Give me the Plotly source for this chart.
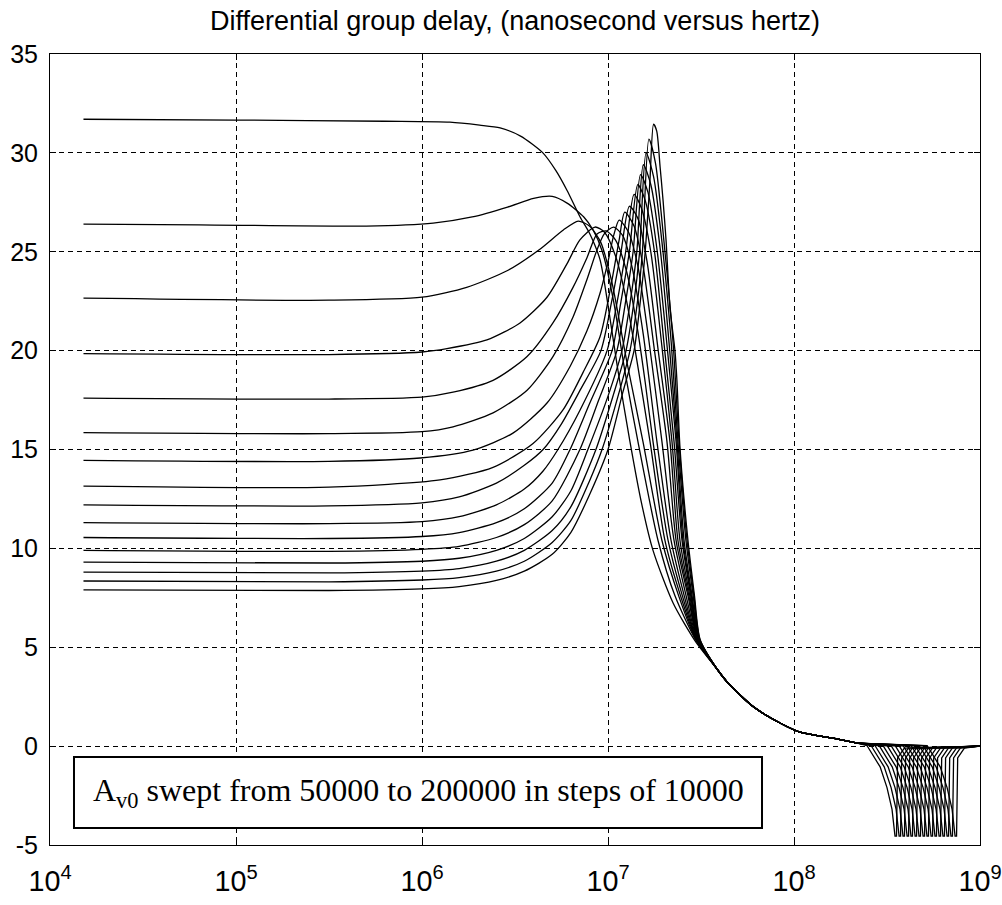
import plotly.graph_objects as go

# Differential group delay (ns) vs frequency, one curve per open-loop gain A_v0.
AV0 = [50000, 60000, 70000, 80000, 90000, 100000, 110000, 120000,
       130000, 140000, 150000, 160000, 170000, 180000, 190000, 200000]

Y_TICKS = [-5, 0, 5, 10, 15, 20, 25, 30, 35]

# Frequencies are given as log10(Hz).
# Low-frequency plateau, resonance hump and roll-off, per curve.
c01_lf = [4.18, 5.0, 5.8, 6.15, 6.31, 6.42, 6.53, 6.65, 6.72, 6.78, 6.85, 6.90, 6.957, 7.0, 7.05, 7.118, 7.18, 7.242, 7.35, 7.47]
c01_ns = [31.70, 31.66, 31.60, 31.55, 31.40, 31.26, 30.85, 30.00, 29.10, 28.10, 26.76, 25.95, 24.60, 22.30, 19.20, 15.40, 12.30, 9.90, 7.24, 5.30]

c02_lf = [4.18, 4.8, 5.7, 6.06, 6.27, 6.46, 6.60, 6.70, 6.78, 6.87, 6.92, 6.97, 7.03, 7.09, 7.161, 7.269, 7.36, 7.47]
c02_ns = [26.40, 26.36, 26.30, 26.45, 26.76, 27.26, 27.70, 27.80, 27.46, 26.76, 26.10, 25.00, 22.50, 19.00, 15.40, 10.40, 7.60, 5.40]

c03_lf = [4.18, 5.5, 6.0, 6.24, 6.46, 6.63, 6.76, 6.84, 6.90, 6.96, 7.02, 7.10, 7.188, 7.29, 7.38, 7.472]
c03_ns = [22.65, 22.55, 22.70, 23.20, 24.05, 25.10, 26.10, 26.55, 26.30, 25.50, 23.50, 19.50, 15.40, 10.40, 7.60, 5.40]

c04_lf = [4.18, 5.5, 6.0, 6.134, 6.349, 6.527, 6.672, 6.78, 6.849, 6.93, 6.98, 7.04, 7.10, 7.15, 7.226, 7.306, 7.39, 7.474]
c04_ns = [19.85, 19.80, 19.93, 20.10, 20.54, 21.40, 22.70, 24.40, 25.60, 26.25, 26.00, 24.80, 22.50, 19.80, 15.40, 10.40, 7.60, 5.40]

c05_lf = [4.18, 5.5, 6.0, 6.167, 6.382, 6.565, 6.704, 6.812, 6.887, 6.941, 6.99, 7.04, 7.10, 7.16, 7.20, 7.242, 7.323, 7.40, 7.476]
c05_ns = [17.60, 17.55, 17.65, 17.90, 18.50, 19.70, 21.40, 23.20, 24.70, 25.90, 26.05, 25.60, 24.00, 21.00, 18.40, 15.40, 10.40, 7.60, 5.40]

c06_lf = [4.18, 5.5, 6.0, 6.167, 6.382, 6.565, 6.704, 6.812, 6.887, 6.941, 6.98, 7.03, 7.08, 7.13, 7.19, 7.263, 7.339, 7.41, 7.477]
c06_ns = [15.85, 15.80, 15.90, 16.15, 16.85, 18.00, 19.70, 21.70, 23.60, 25.10, 25.90, 26.25, 25.80, 24.20, 20.80, 15.40, 10.40, 7.60, 5.40]

c07_lf = [4.18, 5.5, 5.99, 6.274, 6.489, 6.672, 6.796, 6.887, 6.957, 7.0, 7.03, 7.06, 7.11, 7.16, 7.22, 7.29, 7.355, 7.42, 7.479]
c07_ns = [14.45, 14.40, 14.57, 14.97, 15.83, 17.35, 19.20, 21.00, 22.90, 24.50, 25.80, 26.60, 26.00, 24.30, 20.50, 15.40, 10.40, 7.60, 5.40]

c08_lf = [4.18, 5.5, 6.097, 6.382, 6.597, 6.758, 6.866, 6.957, 7.02, 7.06, 7.09, 7.14, 7.19, 7.25, 7.317, 7.366, 7.43, 7.481]
c08_ns = [13.15, 13.10, 13.46, 14.10, 15.30, 17.00, 18.90, 20.70, 23.50, 25.60, 27.00, 26.30, 24.20, 20.00, 15.40, 10.40, 7.60, 5.40]

c09_lf = [4.18, 5.5, 6.0, 6.2, 6.4, 6.55, 6.651, 6.75, 6.85, 6.962, 7.02, 7.07, 7.115, 7.16, 7.21, 7.27, 7.333, 7.376, 7.435, 7.483]
c09_ns = [12.20, 12.15, 12.30, 12.60, 13.30, 14.20, 15.00, 16.30, 18.00, 20.00, 22.50, 25.00, 27.30, 26.70, 24.50, 20.00, 15.40, 10.40, 7.60, 5.40]

c10_lf = [4.18, 5.5, 6.0, 6.2, 6.4, 6.55, 6.65, 6.731, 6.85, 6.995, 7.05, 7.095, 7.14, 7.18, 7.23, 7.29, 7.344, 7.387, 7.44, 7.485]
c10_ns = [11.30, 11.25, 11.35, 11.60, 12.20, 13.00, 13.90, 15.00, 17.00, 20.00, 22.50, 25.00, 27.90, 27.20, 25.00, 20.20, 15.40, 10.40, 7.60, 5.40]

c11_lf = [4.18, 5.5, 6.0, 6.2, 6.4, 6.55, 6.7, 6.796, 6.9, 7.022, 7.07, 7.115, 7.16, 7.20, 7.25, 7.305, 7.355, 7.398, 7.445, 7.486]
c11_ns = [10.55, 10.50, 10.60, 10.80, 11.30, 12.00, 13.30, 15.00, 17.30, 20.00, 22.50, 25.00, 28.40, 27.60, 25.00, 20.00, 15.40, 10.40, 7.60, 5.40]

c12_lf = [4.18, 5.5, 6.0, 6.2, 6.4, 6.55, 6.7, 6.849, 6.95, 7.048, 7.095, 7.135, 7.175, 7.215, 7.265, 7.32, 7.366, 7.403, 7.448, 7.488]
c12_ns = [9.90, 9.85, 9.95, 10.10, 10.55, 11.20, 12.40, 15.00, 17.50, 20.00, 22.50, 25.00, 28.90, 28.00, 25.00, 20.00, 15.40, 10.40, 7.60, 5.40]

c13_lf = [4.18, 5.5, 6.0, 6.2, 6.4, 6.55, 6.7, 6.8, 6.892, 7.0, 7.075, 7.12, 7.155, 7.19, 7.23, 7.28, 7.33, 7.371, 7.409, 7.452, 7.490]
c13_ns = [9.30, 9.26, 9.35, 9.50, 9.90, 10.50, 11.60, 12.90, 15.00, 17.70, 20.00, 22.50, 25.00, 29.40, 28.40, 25.20, 20.20, 15.40, 10.40, 7.60, 5.40]

c14_lf = [4.18, 5.5, 6.0, 6.2, 6.4, 6.55, 6.7, 6.8, 6.935, 7.03, 7.097, 7.14, 7.17, 7.205, 7.245, 7.29, 7.34, 7.376, 7.419, 7.458, 7.492]
c14_ns = [8.80, 8.76, 8.85, 8.98, 9.35, 9.90, 10.90, 12.10, 15.00, 17.80, 20.00, 22.50, 25.00, 30.00, 28.80, 25.50, 20.40, 15.40, 10.40, 7.60, 5.40]

c15_lf = [4.18, 5.5, 6.0, 6.2, 6.4, 6.55, 6.7, 6.8, 6.9, 6.968, 7.06, 7.118, 7.16, 7.185, 7.22, 7.255, 7.30, 7.35, 7.382, 7.425, 7.462, 7.494]
c15_ns = [8.35, 8.31, 8.40, 8.52, 8.85, 9.35, 10.30, 11.40, 13.40, 15.00, 17.90, 20.00, 22.60, 25.00, 30.70, 29.50, 25.60, 20.40, 15.40, 10.40, 7.60, 5.40]

c16_lf = [4.18, 5.5, 6.0, 6.2, 6.4, 6.55, 6.7, 6.8, 6.9, 7.0, 7.08, 7.14, 7.175, 7.20, 7.225, 7.245, 7.262, 7.28, 7.296, 7.312, 7.333, 7.36, 7.371, 7.387, 7.43, 7.465, 7.495]
c16_ns = [7.90, 7.87, 7.95, 8.07, 8.38, 8.85, 9.70, 10.80, 12.70, 15.00, 17.90, 20.00, 22.60, 25.00, 28.50, 31.45, 31.10, 29.30, 27.60, 25.60, 22.20, 20.00, 18.40, 15.10, 10.40, 7.60, 5.40]

# Common high-frequency tail where all curves coincide.
tail_lf = [7.586, 7.64, 7.78, 7.925, 8.032, 8.21, 8.34]
tail_ns = [3.90, 3.25, 2.00, 1.17, 0.71, 0.40, 0.15]

# Negative notch near 300-800 MHz: shared depth profile, per-curve positions.
notch_ns = [0.02, -1.05, -2.10, -3.20, -4.55, -4.55, -0.60, -0.10, 0.00]
n01_lf = [8.393, 8.463, 8.500, 8.527, 8.543, 8.551, 8.557, 8.593, 9.0]
n02_lf = [8.415, 8.485, 8.522, 8.549, 8.565, 8.573, 8.579, 8.615, 9.0]
n03_lf = [8.436, 8.506, 8.543, 8.570, 8.586, 8.594, 8.600, 8.636, 9.0]
n04_lf = [8.458, 8.528, 8.565, 8.592, 8.608, 8.616, 8.622, 8.658, 9.0]
n05_lf = [8.479, 8.549, 8.586, 8.613, 8.629, 8.637, 8.643, 8.679, 9.0]
n06_lf = [8.501, 8.571, 8.608, 8.635, 8.651, 8.659, 8.665, 8.701, 9.0]
n07_lf = [8.522, 8.592, 8.629, 8.656, 8.672, 8.680, 8.686, 8.722, 9.0]
n08_lf = [8.544, 8.614, 8.651, 8.678, 8.694, 8.702, 8.708, 8.744, 9.0]
n09_lf = [8.565, 8.635, 8.672, 8.699, 8.715, 8.723, 8.729, 8.765, 9.0]
n10_lf = [8.587, 8.657, 8.694, 8.721, 8.737, 8.745, 8.751, 8.787, 9.0]
n11_lf = [8.608, 8.678, 8.715, 8.742, 8.758, 8.766, 8.772, 8.808, 9.0]
n12_lf = [8.630, 8.700, 8.737, 8.764, 8.780, 8.788, 8.794, 8.830, 9.0]
n13_lf = [8.651, 8.721, 8.758, 8.785, 8.801, 8.809, 8.815, 8.851, 9.0]
n14_lf = [8.673, 8.743, 8.780, 8.807, 8.823, 8.831, 8.837, 8.873, 9.0]
n15_lf = [8.694, 8.764, 8.801, 8.828, 8.844, 8.852, 8.858, 8.894, 9.0]
n16_lf = [8.716, 8.786, 8.823, 8.850, 8.866, 8.874, 8.880, 8.916, 9.0]

heads = [(c01_lf, c01_ns), (c02_lf, c02_ns), (c03_lf, c03_ns), (c04_lf, c04_ns),
         (c05_lf, c05_ns), (c06_lf, c06_ns), (c07_lf, c07_ns), (c08_lf, c08_ns),
         (c09_lf, c09_ns), (c10_lf, c10_ns), (c11_lf, c11_ns), (c12_lf, c12_ns),
         (c13_lf, c13_ns), (c14_lf, c14_ns), (c15_lf, c15_ns), (c16_lf, c16_ns)]
notches = [n01_lf, n02_lf, n03_lf, n04_lf, n05_lf, n06_lf, n07_lf, n08_lf,
           n09_lf, n10_lf, n11_lf, n12_lf, n13_lf, n14_lf, n15_lf, n16_lf]

LINE = dict(color="black", width=1.3)

fig = go.Figure()
for av0, (hlf, hns), nlf in zip(AV0, heads, notches):
    # smooth part: plateau, hump, roll-off and shared tail
    lf = hlf + tail_lf
    ns = hns + tail_ns
    fig.add_trace(go.Scatter(
        x=[10 ** e for e in lf], y=ns, mode="lines",
        line=dict(shape="spline", smoothing=0.7, **LINE),
        name=f"A_v0 = {av0}", showlegend=False, hoverinfo="skip"))
    # notch part, drawn straight so the sharp edges stay sharp
    lf2 = tail_lf[-1:] + nlf
    ns2 = tail_ns[-1:] + notch_ns
    fig.add_trace(go.Scatter(
        x=[10 ** e for e in lf2], y=ns2, mode="lines", line=LINE,
        name=f"A_v0 = {av0}", showlegend=False, hoverinfo="skip"))

axis_common = dict(
    showline=True, linecolor="black", linewidth=1, mirror="ticks",
    ticks="inside", ticklen=6, tickcolor="black", tickwidth=1,
    showgrid=True, gridcolor="black", gridwidth=1, griddash="5px,4px",
    zeroline=False, ticklabeloverflow="allow", automargin=False,
)

fig.update_xaxes(type="log", range=[4, 9], dtick=1, exponentformat="power",
                 showexponent="all", ticklabelstandoff=12,
                 tickfont=dict(family="Liberation Sans, Arial, sans-serif", size=23, color="black"),
                 **axis_common)
fig.update_yaxes(range=[-5, 35], tickmode="array", tickvals=Y_TICKS,
                 ticktext=[str(v) for v in Y_TICKS], ticklabelstandoff=6,
                 tickfont=dict(family="Liberation Sans, Arial, sans-serif", size=25, color="black"),
                 **axis_common)

# Note box in the lower-left corner.
fig.add_shape(type="rect", xref="paper", yref="paper",
              x0=0.0258, x1=0.7656, y0=0.0215, y1=0.1113,
              line=dict(color="black", width=2), fillcolor="white", layer="above")
fig.add_annotation(xref="paper", yref="paper", x=0.044, y=0.066,
                   xanchor="left", yanchor="middle", showarrow=False,
                   text="A<sub>v0</sub> swept from 50000 to 200000 in steps of 10000",
                   font=dict(family="Liberation Serif, Times New Roman, serif", size=32, color="black"))

fig.update_layout(
    width=1002, height=905,
    margin=dict(l=50, r=22, t=54, b=60, autoexpand=False),
    paper_bgcolor="white", plot_bgcolor="white",
    title=dict(text="Differential group delay, (nanosecond versus hertz)",
               x=0.5, xref="paper", xanchor="center",
               y=1 - 21 / 905, yref="container", yanchor="middle",
               font=dict(family="Liberation Sans, Arial, sans-serif", size=27, color="black"),
               automargin=False),
)

fig.write_html("out.html")
